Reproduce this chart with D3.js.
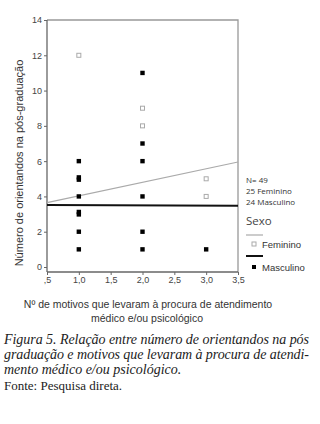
<!DOCTYPE html>
<html><head><meta charset="utf-8">
<script src="https://cdn.jsdelivr.net/npm/d3@7"></script>
<style>body{margin:0;background:#fff}svg{display:block}</style>
</head><body>
<script>
// Data
const xTicks = [0.5, 1.0, 1.5, 2.0, 2.5, 3.0, 3.5];
const xTickLabels = [",5", "1,0", "1,5", "2,0", "2,5", "3,0", "3,5"];
const yTicks = [0, 2, 4, 6, 8, 10, 12, 14];
const masculinoX = [1, 1, 1, 1, 1, 1, 1, 1, 2, 2, 2, 2, 2, 2, 3];
const masculinoY = [6, 5.08, 4.95, 4, 3.12, 2.98, 2, 1, 11, 7, 6, 4, 2, 1, 1];
const femininoX = [1, 2, 2, 3, 3];
const femininoY = [12, 9, 8, 5, 4];
const fitFeminino = [3.65, 5.95];   // y at x=0.5 and x=3.5
const fitMasculino = [3.52, 3.47];
const legendInfo = ["N= 49", "25 Feminino", "24 Masculino"];
const seriesNames = ["Feminino", "Masculino"];

const W = 320, H = 424;
const svg = d3.select("body").append("svg").attr("width", W).attr("height", H);

const x = d3.scaleLinear().domain([0.5, 3.5]).range([47, 238]);
const y = d3.scaleLinear().domain([0, 14]).range([267, 20]);
const yBottom = 272;

const axisCol = "#666";
// frame
svg.append("path")
  .attr("d", `M${x(0.5)},${y(14)}H${x(3.5)}V${yBottom}`)
  .attr("fill", "none").attr("stroke", "#999").attr("stroke-width", 1.3);

// y axis
const gy = svg.append("g").attr("transform", `translate(${x(0.5)},0)`)
  .call(d3.axisLeft(y).tickValues(yTicks).tickSize(3).tickPadding(2).tickFormat(d3.format("d")));
gy.select(".domain").attr("d", `M0,${y(14)}V${yBottom}`).attr("stroke", axisCol).attr("stroke-width", 1.3);
gy.selectAll(".tick line").attr("stroke", axisCol);
gy.selectAll(".tick text").attr("fill", "#444").style("font", "9px 'Liberation Sans', Arial, sans-serif");

// x axis
const gx = svg.append("g").attr("transform", `translate(0,${yBottom})`)
  .call(d3.axisBottom(x).tickValues(xTicks).tickSize(3).tickPadding(2)
    .tickFormat((d, i) => xTickLabels[i]));
gx.select(".domain").attr("d", `M${x(0.5)},0H${x(3.5)}`).attr("stroke", axisCol).attr("stroke-width", 1.3);
gx.selectAll(".tick line").attr("stroke", axisCol);
gx.selectAll(".tick text").attr("fill", "#444").style("font", "9px 'Liberation Sans', Arial, sans-serif");

// fit lines
svg.append("line")
  .attr("x1", x(0.5)).attr("y1", y(fitFeminino[0]))
  .attr("x2", x(3.5)).attr("y2", y(fitFeminino[1]))
  .attr("stroke", "#aaa").attr("stroke-width", 1.2);
svg.append("line")
  .attr("x1", x(0.5)).attr("y1", y(fitMasculino[0]))
  .attr("x2", x(3.5)).attr("y2", y(fitMasculino[1]))
  .attr("stroke", "#111").attr("stroke-width", 2);

// points
const s = 4;
svg.append("g").selectAll("rect").data(femininoX.map((v, i) => [v, femininoY[i]])).join("rect")
  .attr("x", d => x(d[0]) - s / 2).attr("y", d => y(d[1]) - s / 2)
  .attr("width", s).attr("height", s)
  .attr("fill", "#fff").attr("stroke", "#aaa").attr("stroke-width", 1);
svg.append("g").selectAll("rect").data(masculinoX.map((v, i) => [v, masculinoY[i]])).join("rect")
  .attr("x", d => x(d[0]) - 2.2).attr("y", d => y(d[1]) - 2.2)
  .attr("width", 4.4).attr("height", 4.4)
  .attr("fill", "#000");

// legend
const lx = 246;
const lg = svg.append("g").style("font-family", "'Open Sans', 'DejaVu Sans', sans-serif");
legendInfo.forEach((t, i) => {
  lg.append("text").attr("x", lx).attr("y", 183 + i * 11.2).text(t)
    .attr("fill", "#333").style("font-size", "8px");
});
lg.append("text").attr("x", lx).attr("y", 225).text("Sexo").attr("fill", "#444").style("font-size", "11.5px");
// Feminino legend
lg.append("line").attr("x1", lx).attr("x2", lx + 17).attr("y1", 235).attr("y2", 235).attr("stroke", "#aaa").attr("stroke-width", 1.2);
lg.append("rect").attr("x", lx + 6).attr("y", 242).attr("width", s).attr("height", s)
  .attr("fill", "#fff").attr("stroke", "#aaa");
lg.append("text").attr("x", lx + 16).attr("y", 247.5).text(seriesNames[0]).attr("fill", "#333").style("font-size", "9.5px")
  .style("font-family", "'Liberation Sans', Arial, sans-serif");
// Masculino legend
lg.append("line").attr("x1", lx).attr("x2", lx + 17).attr("y1", 256).attr("y2", 256).attr("stroke", "#111").attr("stroke-width", 2);
lg.append("rect").attr("x", lx + 6).attr("y", 265).attr("width", 4).attr("height", 4).attr("fill", "#000");
lg.append("text").attr("x", lx + 16).attr("y", 270.5).text(seriesNames[1]).attr("fill", "#333").style("font-size", "9.5px")
  .style("font-family", "'Liberation Sans', Arial, sans-serif");

// axis titles
svg.append("text")
  .attr("transform", `translate(23,${163}) rotate(-90)`)
  .attr("text-anchor", "middle").attr("fill", "#333")
  .style("font", "11px 'Liberation Sans', Arial, sans-serif")
  .text("Número de orientandos na pós-graduação");
const xt = svg.append("text").attr("text-anchor", "middle").attr("fill", "#333")
  .style("font", "10.5px 'Liberation Sans', Arial, sans-serif");
xt.append("tspan").attr("x", 148).attr("y", 308).text("Nº de motivos que levaram à procura de atendimento");
xt.append("tspan").attr("x", 147).attr("y", 322).text("médico e/ou psicológico");

// caption
const cap = svg.append("g").style("font-family", "'Liberation Serif', 'DejaVu Serif', serif").attr("fill", "#222");
const capLines = [
  "Figura 5. Relação entre número de orientandos na pós",
  "graduação e motivos que levaram à procura de atendi-",
  "mento médico e/ou psicológico."
];
capLines.forEach((t, i) => {
  const tx = cap.append("text").attr("x", 4).attr("y", 344 + i * 15).text(t)
    .style("font-style", "italic").style("font-size", "14px");
  if (i < 2) tx.attr("textLength", 305).attr("lengthAdjust", "spacing");
});
cap.append("text").attr("x", 4).attr("y", 390).text("Fonte: Pesquisa direta.").style("font-size", "13px");
</script>
</body></html>
